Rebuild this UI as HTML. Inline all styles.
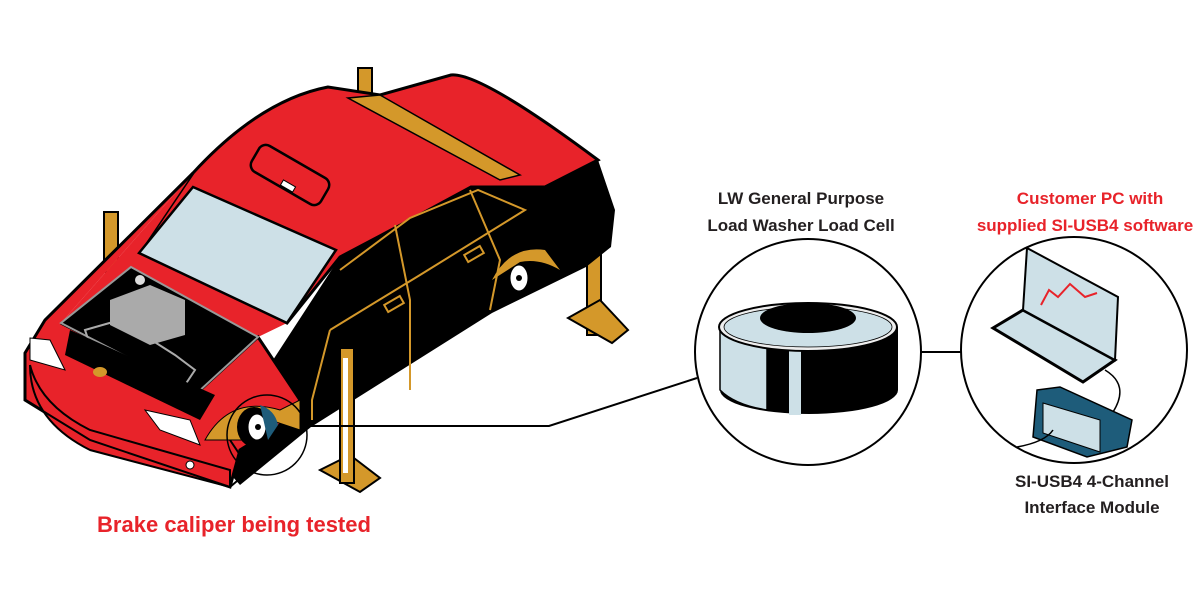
<!DOCTYPE html>
<html><head><meta charset="utf-8"><style>
html,body{margin:0;padding:0;background:#fff;width:1200px;height:600px;overflow:hidden}
svg{display:block}
text{font-family:"Liberation Sans",sans-serif;font-weight:bold}
</style></head><body>
<svg width="1200" height="600" viewBox="0 0 1200 600" xmlns="http://www.w3.org/2000/svg">
<g fill="#d4982a" stroke="#000" stroke-width="2">
<rect x="104" y="212" width="14" height="60"/>
<rect x="358" y="68" width="14" height="26"/>
<rect x="587" y="205" width="14" height="130"/>
<polygon points="568,318 600,300 628,330 612,343"/>
</g>
<polygon points="340,257 410,220 471,187 545,187 598,160 615,210 611,247 586,267 492,313 311,427 240,485 200,440 260,380" fill="#000"/>
<ellipse cx="516" cy="278" rx="17" ry="20" fill="#000"/>
<ellipse cx="519" cy="278" rx="10" ry="14" fill="#fff" stroke="#000" stroke-width="3"/>
<circle cx="519" cy="278" r="3" fill="#000"/>
<path d="M492,280 Q510,245 545,250 L560,270 Q540,258 520,262 Z" fill="#d4982a"/>
<path d="M193,173 Q260,100 328,87 L380,95 L451,75 Q480,72 598,160 L545,187 L471,187 L410,220 L340,257 L287,323 L139,253 Z" fill="#e8232a" stroke="#000" stroke-width="3"/>
<polygon points="348,98 380,95 520,175 500,180" fill="#d4982a" stroke="#000" stroke-width="1.5"/>
<rect x="250" y="160" width="80" height="30" rx="8" transform="rotate(30 290 175)" fill="#e8232a" stroke="#000" stroke-width="2.5"/>
<rect x="281" y="183" width="14" height="6" fill="#fff" stroke="#000" transform="rotate(30 288 186)"/>
<g fill="none" stroke="#d4982a" stroke-width="2">
<path d="M340,270 L410,218 L478,190 L525,210 L420,275 L330,330"/>
<path d="M395,225 L410,300 L410,390"/>
<path d="M470,190 L500,260 L490,310"/>
<path d="M330,330 L312,400 L312,420"/>
<rect x="385" y="300" width="18" height="8" transform="rotate(-30 394 304)"/>
<rect x="465" y="250" width="18" height="8" transform="rotate(-30 474 254)"/>
</g>
<path d="M193,173 L139,253 L287,323 L258,337 L197,393 L61,323 Z" fill="#e8232a"/>
<polygon points="193,187 336,250 287,323 139,253" fill="#cde0e7" stroke="#000" stroke-width="2.5"/>
<path d="M193,173 L45,320 L25,353 L25,400 L90,440 L230,487 L240,450 L280,425 L300,400 L258,337 L197,393 L61,323" fill="#e8232a" stroke="#000" stroke-width="3"/>
<polygon points="131,267 258,337 197,393 61,323" fill="#000" stroke="#999" stroke-width="2"/>
<path d="M110,300 L150,285 L185,300 L185,335 L150,345 L110,325 Z" fill="#aaa"/>
<path d="M85,330 L120,320 L175,355 L195,370 L185,385 L140,365 L90,345 Z" fill="none" stroke="#aaa" stroke-width="2"/>
<circle cx="140" cy="280" r="5" fill="#ddd"/>
<polygon points="30,338 50,340 65,370 30,360" fill="#fff" stroke="#000"/>
<polygon points="145,410 190,420 200,445 160,430" fill="#fff" stroke="#000"/>
<polygon points="65,355 200,420 215,395 70,330" fill="#000"/>
<path d="M30,365 Q30,420 90,450 L230,487 L230,470 L90,430 Q40,405 30,365" fill="#e8232a" stroke="#000" stroke-width="2"/>
<path d="M25,400 L90,440 L230,487 L250,470 L230,440" fill="none" stroke="#000" stroke-width="2"/>
<path d="M205,440 Q230,395 280,410 L300,400 L300,430 L270,420 L250,440 Z" fill="#d4982a" stroke="#000"/>
<ellipse cx="100" cy="372" rx="7" ry="5" fill="#d4982a"/>
<circle cx="190" cy="465" r="4" fill="#fff" stroke="#000"/>
<ellipse cx="254" cy="427" rx="17" ry="20" fill="#000"/>
<ellipse cx="257" cy="427" rx="10" ry="14" fill="#fff" stroke="#000" stroke-width="3"/>
<circle cx="258" cy="427" r="3" fill="#000"/>
<path d="M260,405 Q275,410 278,425 L268,440 Z" fill="#1e5c7a"/>
<g fill="#d4982a" stroke="#000" stroke-width="2">
<polygon points="320,470 350,455 380,478 360,492"/>
<rect x="340" y="348" width="14" height="135"/>
<rect x="343" y="358" width="5" height="115" fill="#fff" stroke="none"/>
</g>
<circle cx="267" cy="435" r="40" fill="none" stroke="#000" stroke-width="1.5"/>
<polyline points="311,426 549,426 697,378" fill="none" stroke="#000" stroke-width="2"/>
<line x1="921" y1="352" x2="961" y2="352" stroke="#000" stroke-width="2"/>
<circle cx="808" cy="352" r="113" fill="#fff" stroke="#000" stroke-width="2"/>
<path d="M720,327 L720,390 A89,24 0 0 0 898,390 L898,327 Z" fill="#000"/>
<path d="M720,327 L720,390 Q735,405 767,410 L767,340 Z" fill="#cde0e7" stroke="#000" stroke-width="1.5"/>
<rect x="789" y="345" width="12" height="70" fill="#cde0e7"/>
<ellipse cx="808" cy="327" rx="89" ry="24" fill="#eee" stroke="#000" stroke-width="2"/>
<ellipse cx="808" cy="327" rx="84" ry="20" fill="#cde0e7" stroke="#000" stroke-width="0.8"/>
<ellipse cx="808" cy="318" rx="48" ry="15" fill="#000"/>
<circle cx="1074" cy="350" r="113" fill="#fff" stroke="#000" stroke-width="2"/>
<polygon points="993,328 1023,310 1115,360 1083,382" fill="#cde0e7" stroke="#000" stroke-width="3"/>
<polygon points="1027,248 1118,297 1115,360 1023,310" fill="#cde0e7" stroke="#000" stroke-width="2"/>
<polyline points="1041,305 1049,290 1058,297 1070,284 1085,297 1097,293" fill="none" stroke="#e8232a" stroke-width="2"/>
<path d="M1105,370 Q1130,385 1113,412" fill="none" stroke="#000" stroke-width="1.5"/>
<polygon points="1037,390 1060,387 1132,420 1127,447 1087,457 1033,437" fill="#1e5c7a" stroke="#000" stroke-width="1.5"/>
<polygon points="1043,403 1100,420 1100,452 1043,433" fill="#cde0e7" stroke="#000"/>
<path d="M1053,430 Q1045,442 1017,447" fill="none" stroke="#000" stroke-width="1.5"/>
<text x="234" y="532" font-size="22" fill="#e8232a" text-anchor="middle">Brake caliper being tested</text>
<text x="801" y="204" font-size="17" fill="#231f20" text-anchor="middle">LW General Purpose</text>
<text x="801" y="231" font-size="17" fill="#231f20" text-anchor="middle">Load Washer Load Cell</text>
<text x="1090" y="204" font-size="17" fill="#e8232a" text-anchor="middle">Customer PC with</text>
<text x="1085" y="231" font-size="17" fill="#e8232a" text-anchor="middle">supplied SI-USB4 software</text>
<text x="1092" y="487" font-size="17" fill="#231f20" text-anchor="middle">SI-USB4 4-Channel</text>
<text x="1092" y="513" font-size="17" fill="#231f20" text-anchor="middle">Interface Module</text>
</svg>
</body></html>
